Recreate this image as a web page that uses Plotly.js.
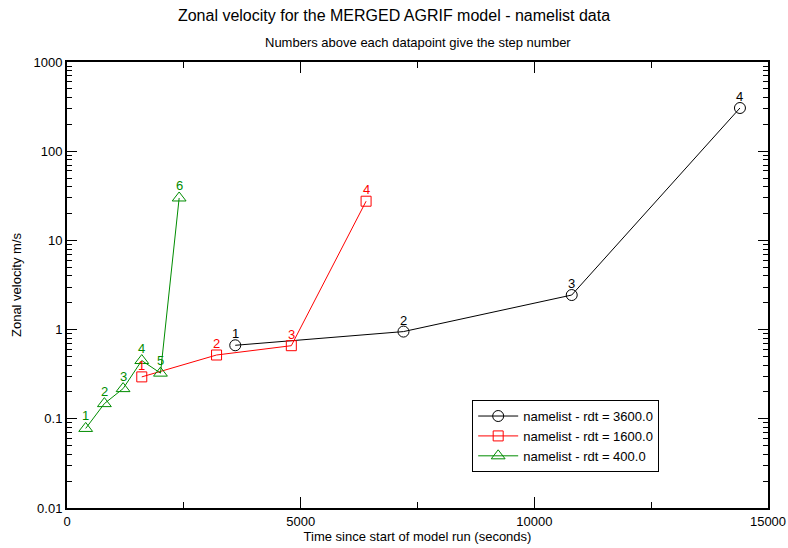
<!DOCTYPE html>
<html>
<head>
<meta charset="utf-8">
<script src="https://cdn.plot.ly/plotly-3.0.1.min.js"></script>
<style>html,body{margin:0;padding:0;background:#fff;}#chart{width:788px;height:548px;}</style>
</head>
<body>
<div id="chart"></div>
<script>
// Series: rdt = 3600.0
const t3600 = [3600, 7200, 10800, 14400];
const v3600 = [0.667, 0.95, 2.44, 305];
const s3600 = ["1", "2", "3", "4"];
// Series: rdt = 1600.0
const t1600 = [1600, 3200, 4800, 6400];
const v1600 = [0.295, 0.519, 0.66, 27.5];
const s1600 = ["1", "2", "3", "4"];
// Series: rdt = 400.0
const t400 = [400, 800, 1200, 1600, 2000, 2400];
const v400 = [0.078, 0.148, 0.218, 0.45, 0.325, 29.9];
const s400 = ["1", "2", "3", "4", "5", "6"];

const yTickVals = [0.01, 0.1, 1, 10, 100, 1000];
const yTickText = ["0.01", "0.1", "1", "10", "100", "1000"];
const xTickVals = [0, 5000, 10000, 15000];
const xTickText = ["0", "5000", "10000", "15000"];

const FONT = "Liberation Sans, Arial, Helvetica, sans-serif";

function series(x, y, name, color, symbol, size) {
  return {
    x: x, y: y, name: name,
    type: "scatter", mode: "lines+markers",
    line: {color: color, width: 1},
    marker: {symbol: symbol, size: size, color: color, line: {color: color, width: 1}},
    cliponaxis: false
  };
}

function labels(x, y, txt, color, shift) {
  return x.map((xv, i) => ({
    x: xv, y: Math.log10(y[i]), xref: "x", yref: "y",
    text: txt[i], showarrow: false,
    xanchor: "center", yanchor: "bottom", yshift: shift,
    font: {family: FONT, size: 13, color: color}
  }));
}

const data = [
  series(t3600, v3600, "namelist - rdt = 3600.0", "#000000", "circle-open", 11),
  series(t1600, v1600, "namelist - rdt = 1600.0", "#ff0000", "square-open", 10),
  series(t400, v400, "namelist - rdt = 400.0", "#008c00", "triangle-up-open", 12)
];

const annotations = []
  .concat(labels(t3600, v3600, s3600, "#000000", 2))
  .concat(labels(t1600, v1600, s1600, "#ff0000", 2))
  .concat(labels(t400, v400, s400, "#008c00", 3));

annotations.push({
  text: "Numbers above each datapoint give the step number",
  xref: "paper", yref: "paper", x: 0.5, y: (508 - 42) / 446,
  xanchor: "center", yanchor: "middle", showarrow: false,
  font: {family: FONT, size: 13, color: "#000"}
});

const layout = {
  width: 788, height: 548,
  margin: {l: 67, r: 20, t: 62, b: 40},
  paper_bgcolor: "#ffffff", plot_bgcolor: "#ffffff",
  font: {family: FONT, size: 13, color: "#000"},
  showlegend: true,
  title: {
    text: "Zonal velocity for the MERGED AGRIF model - namelist data",
    font: {family: FONT, size: 16, color: "#000"},
    x: 0.5, xanchor: "center", y: 0.972, yanchor: "middle", yref: "container"
  },
  annotations: annotations,
  xaxis: {
    range: [0, 15000],
    tickmode: "array", tickvals: xTickVals, ticktext: xTickText,
    ticks: "inside", ticklen: 11, tickwidth: 1, tickcolor: "#000",
    minor: {ticks: "inside", ticklen: 6, tickwidth: 1, tickcolor: "#000", dtick: 2500, tick0: 0, showgrid: false},
    showline: true, linecolor: "#000", linewidth: 2, mirror: "allticks",
    showgrid: false, zeroline: false,
    tickfont: {family: FONT, size: 13},
    title: {text: "Time since start of model run (seconds)", font: {family: FONT, size: 13}, standoff: 0}
  },
  yaxis: {
    type: "log", range: [-2, 3],
    tickmode: "array", tickvals: yTickVals, ticktext: yTickText,
    ticks: "inside", ticklen: 10, tickwidth: 1, tickcolor: "#000",
    minor: {ticks: "inside", ticklen: 5, tickwidth: 1, tickcolor: "#000", dtick: "D1", showgrid: false},
    showline: true, linecolor: "#000", linewidth: 2, mirror: "allticks",
    showgrid: false, zeroline: false,
    tickfont: {family: FONT, size: 13},
    title: {text: "Zonal velocity m/s", font: {family: FONT, size: 13}, standoff: 9}
  },
  legend: {
    x: 0.578, y: 0.242, xanchor: "left", yanchor: "top",
    bgcolor: "#ffffff", bordercolor: "#000", borderwidth: 1,
    font: {family: FONT, size: 13}, tracegroupgap: 0,
    itemwidth: 40
  }
};

Plotly.newPlot("chart", data, layout, {displayModeBar: false, staticPlot: true});
</script>
</body>
</html>
